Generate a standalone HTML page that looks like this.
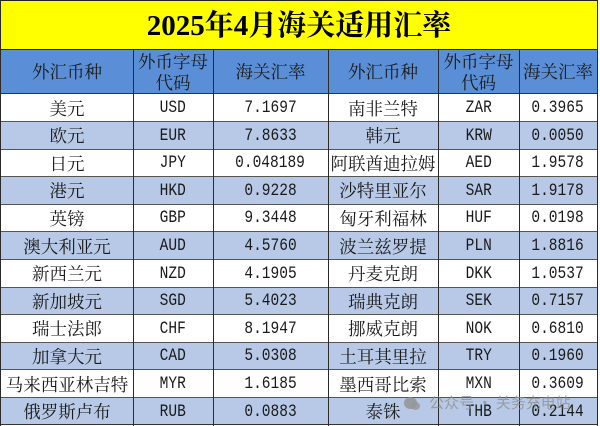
<!DOCTYPE html>
<html><head><meta charset="utf-8">
<style>
*{margin:0;padding:0;box-sizing:border-box}
html,body{width:600px;height:426px;overflow:hidden;background:#fff}
#w{position:relative;width:600px;height:426px}
.title{position:absolute;left:0;top:0;width:598px;height:49px;background:#ffff00;
 font-family:"Liberation Serif","Noto Serif CJK SC",serif;font-weight:bold;font-size:29px;color:#000;
 text-align:center;line-height:52px;letter-spacing:0px}
.hdr{position:absolute;left:0;top:49px;width:598px;height:45px;background:#5a8fd7}
.r{position:absolute;left:0;width:598px}
.b{background:#b7c9e6}
.c{position:absolute;top:0;height:100%;display:flex;align-items:center;justify-content:center;
 font-family:"Liberation Serif","Noto Serif CJK SC",serif;font-size:17.5px;color:#1a1a1a;white-space:nowrap}
.m{font-family:"Liberation Mono",monospace;font-size:17.5px}
.m span{display:inline-block;transform:scaleX(0.83)}
.h2{flex-direction:column;line-height:21px;padding-top:2px}
.c1{left:1px;width:132px}.c2{left:133px;width:80px}.c3{left:213px;width:115px}
.c4{left:328px;width:110px}.c5{left:438px;width:81px}.c6{left:519px;width:78px}
.hl{position:absolute;left:0;width:598px;height:1px;background:#555}
.vl{position:absolute;top:49px;width:1px;height:377px;background:#2a2a2a}
.wm{position:absolute;left:404px;top:392px;font-family:"Noto Sans CJK SC",sans-serif;font-size:15px;color:rgba(140,140,140,0.75);white-space:nowrap}
.wm i{display:inline-block;width:13px;height:12px;border-radius:50%;background:rgba(140,140,140,0.75);vertical-align:-1px;margin-right:12px;position:relative}
.wm i:after{content:"";position:absolute;left:7px;top:5px;width:9px;height:8px;border-radius:50%;background:rgba(150,150,150,0.8)}
</style></head><body><div id="w">
<div class="title">2025年4月海关适用汇率</div>
<div class="hdr">
 <div class="c c1">外汇币种</div>
 <div class="c c2 h2"><div>外币字母</div><div>代码</div></div>
 <div class="c c3">海关汇率</div>
 <div class="c c4">外汇币种</div>
 <div class="c c5 h2"><div>外币字母</div><div>代码</div></div>
 <div class="c c6">海关汇率</div>
</div>

<div class="r" style="top:94px;height:28px"><div class="c c1">美元</div><div class="c c2 m"><span>USD</span></div><div class="c c3 m"><span>7.1697</span></div><div class="c c4">南非兰特</div><div class="c c5 m"><span>ZAR</span></div><div class="c c6 m"><span>0.3965</span></div></div>
<div class="r b" style="top:122px;height:27px"><div class="c c1">欧元</div><div class="c c2 m"><span>EUR</span></div><div class="c c3 m"><span>7.8633</span></div><div class="c c4">韩元</div><div class="c c5 m"><span>KRW</span></div><div class="c c6 m"><span>0.0050</span></div></div>
<div class="r" style="top:149px;height:28px"><div class="c c1">日元</div><div class="c c2 m"><span>JPY</span></div><div class="c c3 m"><span>0.048189</span></div><div class="c c4">阿联酋迪拉姆</div><div class="c c5 m"><span>AED</span></div><div class="c c6 m"><span>1.9578</span></div></div>
<div class="r b" style="top:177px;height:27px"><div class="c c1">港元</div><div class="c c2 m"><span>HKD</span></div><div class="c c3 m"><span>0.9228</span></div><div class="c c4">沙特里亚尔</div><div class="c c5 m"><span>SAR</span></div><div class="c c6 m"><span>1.9178</span></div></div>
<div class="r" style="top:204px;height:28px"><div class="c c1">英镑</div><div class="c c2 m"><span>GBP</span></div><div class="c c3 m"><span>9.3448</span></div><div class="c c4">匈牙利福林</div><div class="c c5 m"><span>HUF</span></div><div class="c c6 m"><span>0.0198</span></div></div>
<div class="r b" style="top:232px;height:28px"><div class="c c1">澳大利亚元</div><div class="c c2 m"><span>AUD</span></div><div class="c c3 m"><span>4.5760</span></div><div class="c c4">波兰兹罗提</div><div class="c c5 m"><span>PLN</span></div><div class="c c6 m"><span>1.8816</span></div></div>
<div class="r" style="top:260px;height:27px"><div class="c c1">新西兰元</div><div class="c c2 m"><span>NZD</span></div><div class="c c3 m"><span>4.1905</span></div><div class="c c4">丹麦克朗</div><div class="c c5 m"><span>DKK</span></div><div class="c c6 m"><span>1.0537</span></div></div>
<div class="r b" style="top:287px;height:28px"><div class="c c1">新加坡元</div><div class="c c2 m"><span>SGD</span></div><div class="c c3 m"><span>5.4023</span></div><div class="c c4">瑞典克朗</div><div class="c c5 m"><span>SEK</span></div><div class="c c6 m"><span>0.7157</span></div></div>
<div class="r" style="top:315px;height:27px"><div class="c c1">瑞士法郎</div><div class="c c2 m"><span>CHF</span></div><div class="c c3 m"><span>8.1947</span></div><div class="c c4">挪威克朗</div><div class="c c5 m"><span>NOK</span></div><div class="c c6 m"><span>0.6810</span></div></div>
<div class="r b" style="top:342px;height:28px"><div class="c c1">加拿大元</div><div class="c c2 m"><span>CAD</span></div><div class="c c3 m"><span>5.0308</span></div><div class="c c4">土耳其里拉</div><div class="c c5 m"><span>TRY</span></div><div class="c c6 m"><span>0.1960</span></div></div>
<div class="r" style="top:370px;height:28px"><div class="c c1">马来西亚林吉特</div><div class="c c2 m"><span>MYR</span></div><div class="c c3 m"><span>1.6185</span></div><div class="c c4">墨西哥比索</div><div class="c c5 m"><span>MXN</span></div><div class="c c6 m"><span>0.3609</span></div></div>
<div class="r b" style="top:398px;height:27px"><div class="c c1">俄罗斯卢布</div><div class="c c2 m"><span>RUB</span></div><div class="c c3 m"><span>0.0883</span></div><div class="c c4">泰铢</div><div class="c c5 m"><span>THB</span></div><div class="c c6 m"><span>0.2144</span></div></div>

<div class="hl" style="top:0;background:#222"></div>
<div class="hl" style="top:49px;background:#222"></div>
<div class="hl" style="top:93px;background:#333"></div>
<div class="hl" style="top:121px"></div>
<div class="hl" style="top:149px"></div>
<div class="hl" style="top:176px"></div>
<div class="hl" style="top:204px"></div>
<div class="hl" style="top:231px"></div>
<div class="hl" style="top:259px"></div>
<div class="hl" style="top:287px"></div>
<div class="hl" style="top:314px"></div>
<div class="hl" style="top:342px"></div>
<div class="hl" style="top:369px"></div>
<div class="hl" style="top:397px"></div>
<div class="hl" style="top:424px;background:#333"></div>

<div class="vl" style="left:0;top:0;height:426px"></div>
<div class="vl" style="left:133px"></div>
<div class="vl" style="left:213px"></div>
<div class="vl" style="left:328px"></div>
<div class="vl" style="left:438px"></div>
<div class="vl" style="left:519px"></div>
<div class="vl" style="left:597px;top:0;height:426px"></div>

<div class="wm"><i></i>公众号 · 关务充电站</div>
</div></body></html>
